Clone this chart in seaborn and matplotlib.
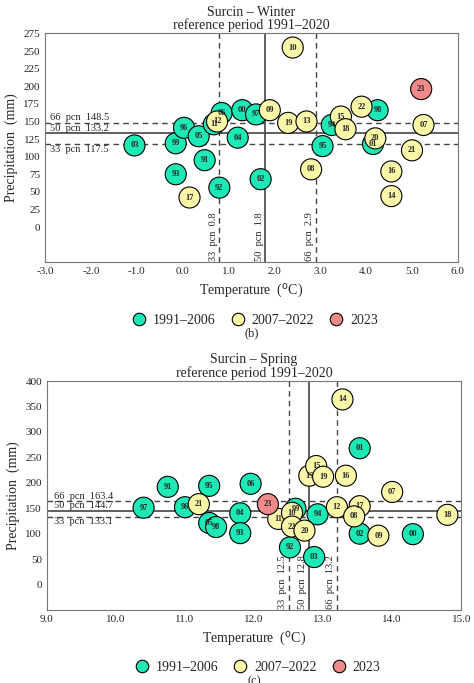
import pandas as pd
import seaborn as sns
import matplotlib.pyplot as plt
from matplotlib.ticker import MultipleLocator

sns.set_style("white")
plt.rcParams['font.family'] = ['Liberation Serif', 'DejaVu Serif']

# winter
w_lab = ['03','99','96','05','91','93','92','06','11','00','97','04','02','95','94','98','01',
         '12','17','09','10','19','13','08','15','18','22','20','16','14','21','07','23']
w_t = [-1.05,-0.15,0.03,0.35,0.48,-0.15,0.8,0.85,0.68,1.3,1.6,1.2,1.7,3.05,3.25,4.25,4.15,
       0.75,0.15,1.9,2.4,2.3,2.7,2.8,3.45,3.55,3.9,4.2,4.55,4.55,5.0,5.25,5.2]
w_p = [116,119,141,129,95,75,56,162,146,166,160,127,68,115,145,166,118,
       150,42,166,255,148,150,82,157,139,171,126,79,44,109,145,196]
w_grp = ['1991–2006']*17 + ['2007–2022']*15 + ['2023']
w_pcn_t = [0.8, 1.8, 2.9]
w_pcn_p = [148.5, 133.2, 117.5]

# spring
s_lab = ['97','91','96','95','05','98','06','04','93','99','92','03','94','01','02','00',
         '21','11','10','22','20','13','15','19','16','14','12','17','08','07','09','18','23']
s_t = [10.4,10.75,11.0,11.35,11.35,11.45,11.95,11.8,11.8,12.6,12.52,12.87,12.92,13.53,13.53,14.3,
       11.2,12.35,12.55,12.55,12.73,12.8,12.9,13.0,13.33,13.28,13.2,13.53,13.45,14.0,13.8,14.8,12.2]
s_p = [151,192,152,194,121,113,198,140,101,149,73,54,138,268,100,99,
       158,129,141,114,106,214,233,212,214,364,152,154,134,182,96,137,158]
s_grp = ['1991–2006']*16 + ['2007–2022']*16 + ['2023']
s_pcn_t = [12.5, 12.8, 13.2]
s_pcn_p = [163.4, 144.7, 133.1]

pal = {'1991–2006': '#1de9b6', '2007–2022': '#fbf7a8', '2023': '#f08a8a'}
order = ['1991–2006', '2007–2022', '2023']

fig = plt.figure(figsize=(4.74, 6.83), dpi=100)
ax1 = fig.add_axes([0.095, 0.616, 0.871, 0.335])
ax2 = fig.add_axes([0.099, 0.107, 0.874, 0.335])


def panel(ax, lab, t, p, grp, pt, pp, title, xlim, xstep, ylim, ystep, tag):
    df = pd.DataFrame({'t': t, 'p': p, 'g': grp, 'lab': lab})
    sns.scatterplot(data=df, x='t', y='p', hue='g', hue_order=order, palette=pal,
                    s=230, edgecolor='black', linewidth=0.8, ax=ax, legend=False, zorder=3)
    for _, r in df.iterrows():
        ax.text(r.t, r.p, r.lab, ha='center', va='center', fontsize=6, fontweight='bold', zorder=4)
    for i, (v, pc) in enumerate(zip(pt, ['33', '50', '66'])):
        ax.axvline(v, color='#444444', lw=1.2 if i == 1 else 1, ls='-' if i == 1 else (0, (4, 3)), zorder=1)
        ax.text(v - 0.03, ylim[0] + 2, f'{pc}  pcn  {v}', rotation=90, ha='right', va='bottom', fontsize=7.5)
    for i, (v, pc) in enumerate(zip(pp, ['66', '50', '33'])):
        ax.axhline(v, color='#444444', lw=1.2 if i == 1 else 1, ls='-' if i == 1 else (0, (4, 3)), zorder=1)
        ax.text(xlim[0] + 0.1, v + (1 if i < 2 else -1), f'{pc}  pcn  {v}', ha='left',
                va='bottom' if i < 2 else 'top', fontsize=7.5)
    ax.set_xlim(xlim)
    ax.set_ylim(ylim)
    n = int(round((xlim[1] - xlim[0]) / xstep))
    xt = [xlim[0] + k * xstep for k in range(n + 1)]
    ax.set_xticks(xt)
    ax.set_xticklabels([f'{x:.1f}' for x in xt], fontsize=8)
    ax.xaxis.set_minor_locator(MultipleLocator(xstep / 2))
    ax.tick_params(axis='x', which='both', direction='in', length=3)
    yt = list(range(0, ylim[1] + 1, ystep))
    ax.set_yticks(yt)
    ax.set_yticklabels([str(y) for y in yt], fontsize=8)
    ax.tick_params(axis='y', length=0)
    for s in ax.spines.values():
        s.set_color('#777777')
    ax.set_xlabel('Temperature  ($^{\\mathrm{o}}$C)', fontsize=10)
    ax.set_ylabel('Precipitation  (mm)', fontsize=10)
    ax.set_title(title, fontsize=10, pad=3, linespacing=1.0)
    handles = [plt.Line2D([], [], marker='o', ls='', markersize=9, markerfacecolor=pal[g],
                          markeredgecolor='black', markeredgewidth=0.8) for g in order]
    ax.legend(handles, order, loc='upper center', bbox_to_anchor=(0.5, -0.17), ncol=3, frameon=False,
              fontsize=10, handletextpad=0.0, columnspacing=0.6)
    ax.text(0.5, -0.285, tag, transform=ax.transAxes, ha='center', va='top', fontsize=9)


panel(ax1, w_lab, w_t, w_p, w_grp, w_pcn_t, w_pcn_p, 'Surcin – Winter\nreference period 1991–2020',
      (-3.0, 6.0), 1.0, (-50, 275), 25, '(b)')
panel(ax2, s_lab, s_t, s_p, s_grp, s_pcn_t, s_pcn_p, 'Surcin – Spring\nreference period 1991–2020',
      (9.0, 15.0), 1.0, (-50, 400), 50, '(c)')

fig.savefig('out.png', dpi=100)
